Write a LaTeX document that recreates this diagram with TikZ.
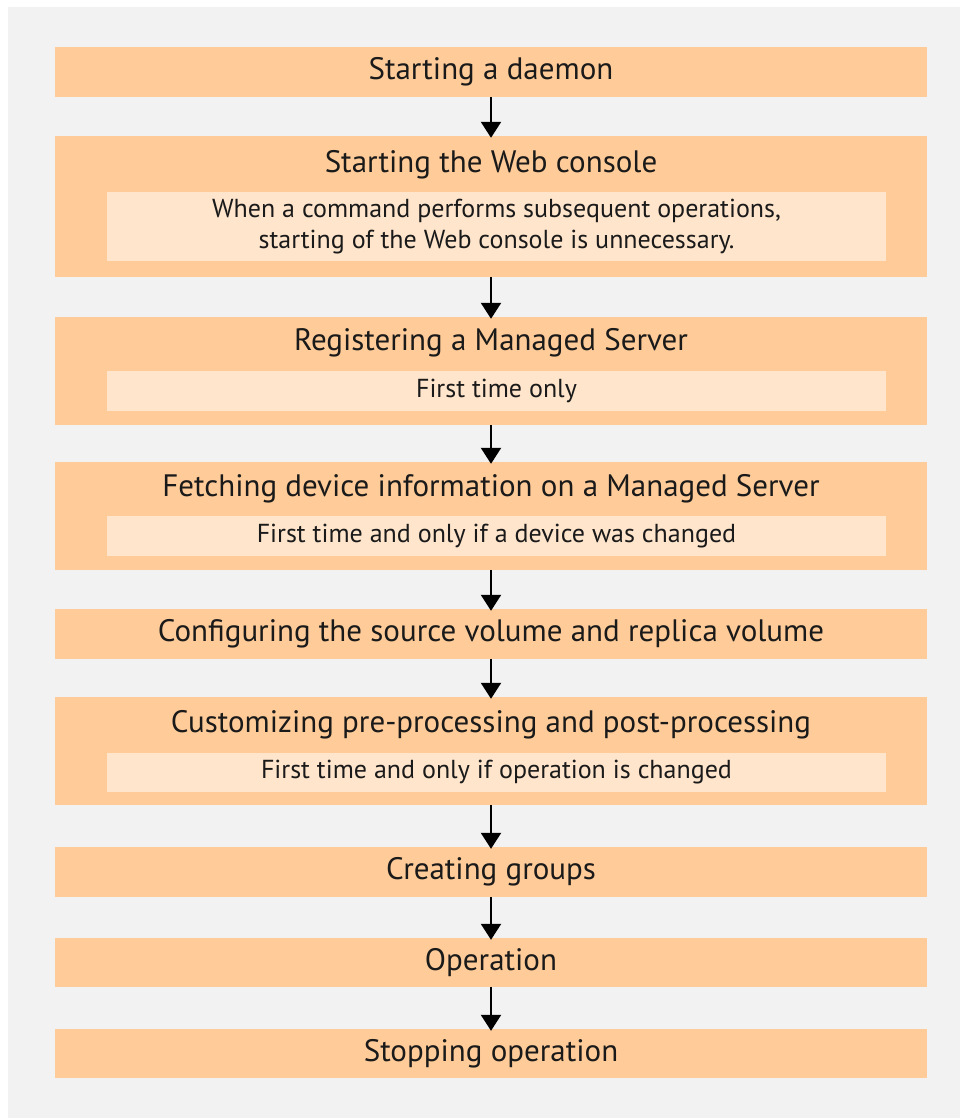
\documentclass[tikz,border=0pt]{standalone}
\usepackage{fontspec}
\setmainfont{PT Sans}
\usetikzlibrary{arrows.meta}
\definecolor{stepfill}{HTML}{FFCC99}
\definecolor{notefill}{HTML}{FFE5CC}
\definecolor{pagegray}{HTML}{F2F2F2}
\definecolor{textgray}{HTML}{1A1A1A}
\tikzset{
  stepbox/.style={fill=stepfill, minimum width=872pt, inner sep=0pt,
    font=\fontsize{31}{34}\selectfont, text=textgray},
  steptitle/.style={inner sep=0pt, font=\fontsize{31}{34}\selectfont, text=textgray},
  notebox/.style={fill=notefill, minimum width=779pt, inner sep=0pt, align=center,
    font=\fontsize{26}{31}\selectfont, text=textgray},
  flow/.style={line width=2.2pt, -{Triangle[width=20pt,length=16pt]}}
}
\begin{document}
\begin{tikzpicture}[x=1pt,y=-1pt]
\useasboundingbox (0,0) rectangle (959,1118);
\fill[pagegray] (8,7) rectangle (975,1135);
% steps
\node[stepbox, minimum height=50pt] (daemon) at (491,72) {Starting a daemon};
\node[stepbox, minimum height=141pt] (web) at (491,206.5) {};
\node[steptitle] (webtitle) at (491,165) {Starting the Web console};
\node[notebox, minimum height=69pt] (webnote) at (496.5,226.5)
  {When a command performs subsequent operations,\\starting of the Web console is unnecessary.};
\node[stepbox, minimum height=108pt] (reg) at (491,371) {};
\node[steptitle] (regtitle) at (491,343) {Registering a Managed Server};
\node[notebox, minimum height=40pt] (regnote) at (496.5,391) {First time only};
\node[stepbox, minimum height=108pt] (fetch) at (491,516) {};
\node[steptitle] (fetchtitle) at (491,489) {Fetching device information on a Managed Server};
\node[notebox, minimum height=40pt] (fetchnote) at (496.5,536) {First time and only if a device was changed};
\node[stepbox, minimum height=50pt] (conf) at (491,634) {Configuring the source volume and replica volume};
\node[stepbox, minimum height=108pt] (cust) at (491,751) {};
\node[steptitle] (custtitle) at (491,725) {Customizing pre-processing and post-processing};
\node[notebox, minimum height=39pt] (custnote) at (496.5,772.5) {First time and only if operation is changed};
\node[stepbox, minimum height=50pt] (groups) at (491,872) {Creating groups};
\node[stepbox, minimum height=49pt] (oper) at (491,962.5) {Operation};
\node[stepbox, minimum height=49pt] (stop) at (491,1053.5) {Stopping operation};
% arrows
\draw[flow] (daemon.south) -- ([yshift=-2pt]web.north);
\draw[flow] (web.south) -- ([yshift=-2pt]reg.north);
\draw[flow] (reg.south) -- ([yshift=-2pt]fetch.north);
\draw[flow] (fetch.south) -- ([yshift=-2pt]conf.north);
\draw[flow] (conf.south) -- ([yshift=-2pt]cust.north);
\draw[flow] (cust.south) -- ([yshift=-2pt]groups.north);
\draw[flow] (groups.south) -- ([yshift=-2pt]oper.north);
\draw[flow] (oper.south) -- ([yshift=-2pt]stop.north);
\end{tikzpicture}
\end{document}
